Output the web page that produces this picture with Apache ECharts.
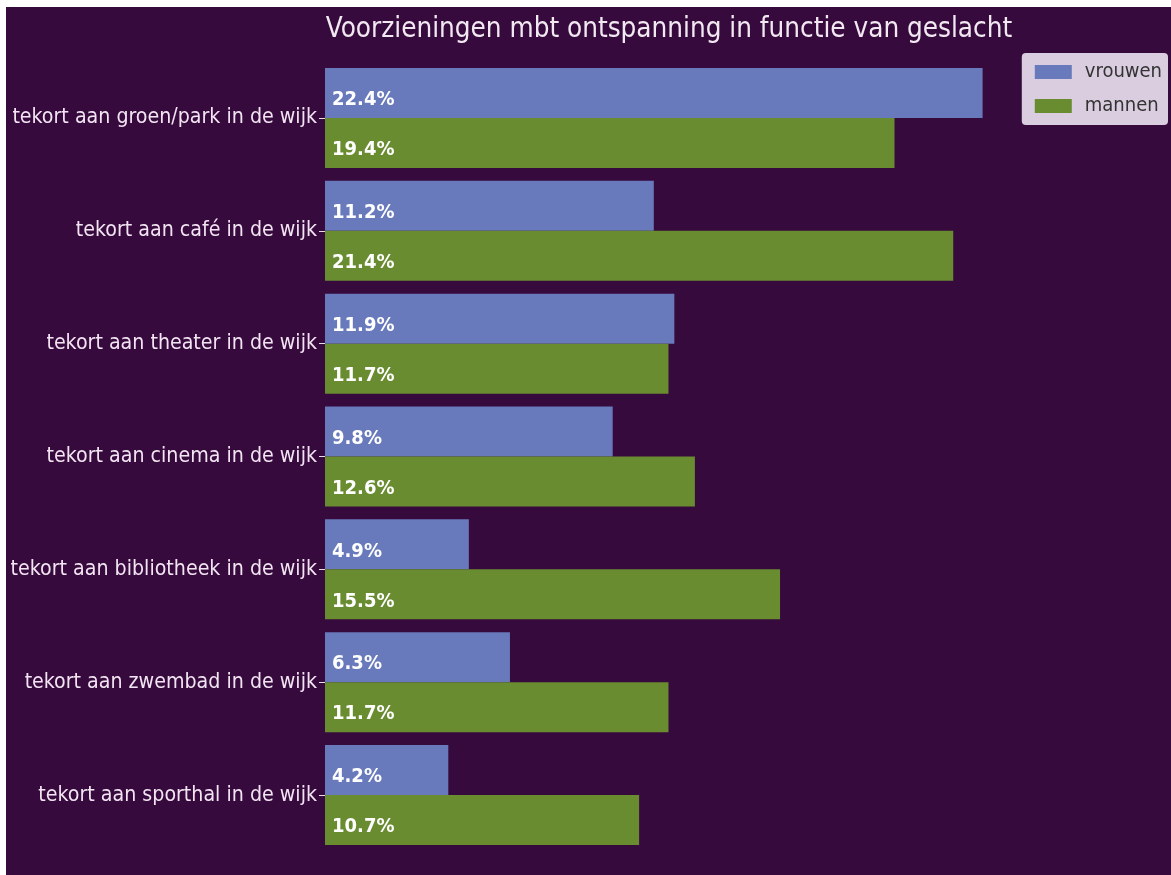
<!DOCTYPE html>
<html>
<head>
<meta charset="utf-8">
<script src="https://cdn.jsdelivr.net/npm/echarts@6/dist/echarts.min.js"></script>
<style>
html,body{margin:0;padding:0;background:#fff;width:1171px;height:875px;overflow:hidden;}
#c{position:absolute;left:6px;top:7px;width:1165px;height:868px;}
</style>
</head>
<body>
<div id="c"></div>
<script>
const categories = [
  'tekort aan groen/park in de wijk',
  'tekort aan café in de wijk',
  'tekort aan theater in de wijk',
  'tekort aan cinema in de wijk',
  'tekort aan bibliotheek in de wijk',
  'tekort aan zwembad in de wijk',
  'tekort aan sporthal in de wijk'
];
const vrouwen = [22.4, 11.2, 11.9, 9.8, 4.9, 6.3, 4.2];
const mannen = [19.4, 21.4, 11.7, 12.6, 15.5, 11.7, 10.7];
const seriesNames = ['vrouwen', 'mannen'];
const titleText = 'Voorzieningen mbt ontspanning in functie van geslacht';

const FONT = '"DejaVu Sans Condensed", "DejaVu Sans", sans-serif';
const chart = echarts.init(document.getElementById('c'));
const labelCfg = {
  show: true,
  position: 'insideLeft',
  distance: 7,
  offset: [0, 7],
  formatter: p => p.value.toFixed(1) + '%',
  color: '#ffffff',
  fontWeight: 'bold',
  fontSize: 20,
  fontFamily: FONT
};
chart.setOption({
  backgroundColor: '#360a3c',
  animation: false,
  title: {
    text: titleText,
    left: 658,
    textAlign: 'center',
    top: 4,
    textStyle: { color: '#f2e8f2', fontSize: 27.6, fontWeight: 'normal', fontFamily: FONT }
  },
  legend: {
    data: seriesNames,
    orient: 'vertical',
    right: 3,
    top: 46,
    icon: 'rect',
    itemWidth: 37,
    itemHeight: 14,
    itemGap: 14,
    padding: [9, 6, 9, 13],
    backgroundColor: 'rgba(232,222,238,0.92)',
    borderRadius: 4,
    textStyle: { color: '#333333', fontSize: 20, fontFamily: FONT, padding: [0, 0, 0, 8] }
  },
  grid: { left: 319, top: 54.5, height: 790, width: 822, containLabel: false, outerBoundsMode: 'none' },
  xAxis: {
    type: 'value', min: 0, max: 28,
    show: false
  },
  yAxis: {
    type: 'category',
    data: categories,
    inverse: true,
    axisLine: { show: false },
    axisTick: { show: true, alignWithLabel: true, length: 6, lineStyle: { color: '#e8dce8' } },
    axisLabel: { color: '#f2e4f2', fontSize: 21.2, margin: 8, fontFamily: FONT },
    splitLine: { show: false }
  },
  series: [
    {
      name: seriesNames[0], type: 'bar', data: vrouwen,
      barWidth: 50, barGap: '0%',
      itemStyle: { color: '#687abb' },
      label: labelCfg
    },
    {
      name: seriesNames[1], type: 'bar', data: mannen,
      barWidth: 50, barGap: '0%',
      itemStyle: { color: '#6a8c30' },
      label: labelCfg
    }
  ]
});
</script>
</body>
</html>
